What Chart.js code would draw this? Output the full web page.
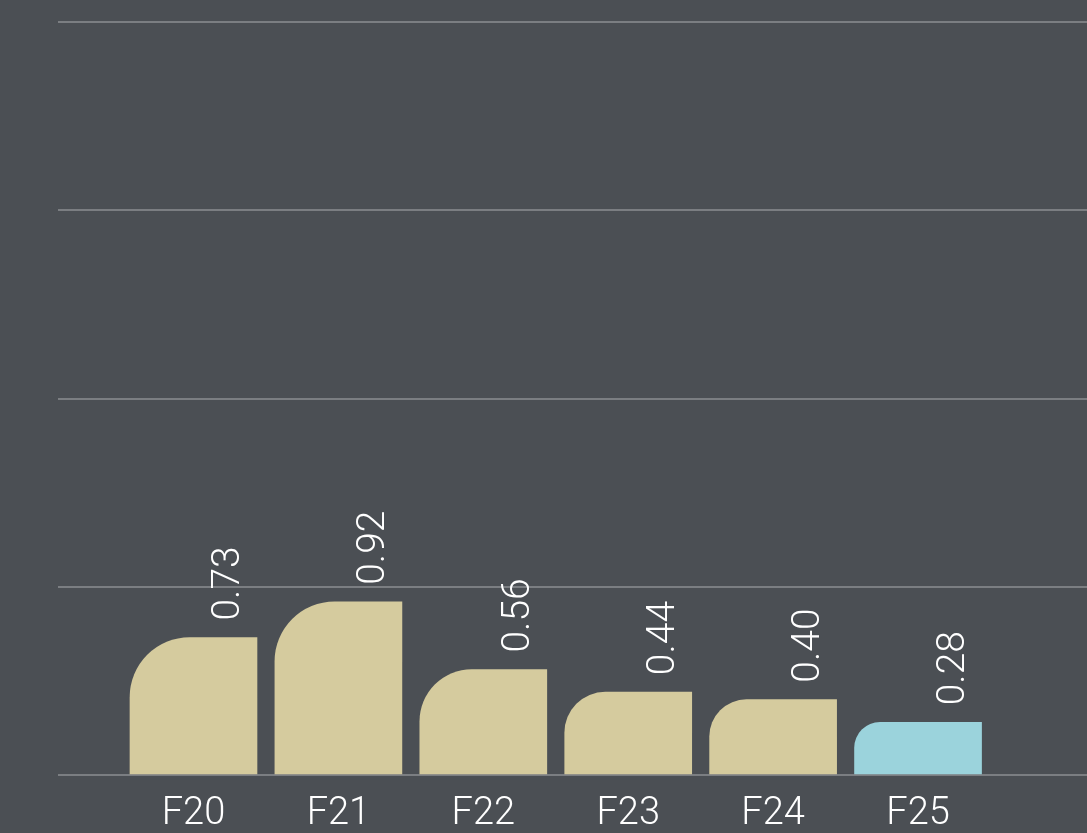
<!DOCTYPE html>
<html>
<head>
<meta charset="utf-8">
<script src="https://cdn.jsdelivr.net/npm/chart.js@4"></script>
<style>
html,body{margin:0;padding:0;background:#4b4f54;}
#wrap{width:1087px;height:833px;}
</style>
</head>
<body>
<div id="wrap"><canvas id="c" width="1087" height="833"></canvas></div>
<script>
const categories = ['F20','F21','F22','F23','F24','F25'];
const values = [0.73, 0.92, 0.56, 0.44, 0.40, 0.28];
const labelsText = ['0.73','0.92','0.56','0.44','0.40','0.28'];
const barColors = ['#d5cb9e','#d5cb9e','#d5cb9e','#d5cb9e','#d5cb9e','#9bd3dc'];
const yTicks = [0, 1, 2, 3, 4];

const FONT = "Roboto, 'Liberation Sans', sans-serif";

const labelPlugin = {
  id: 'barLabels',
  afterDatasetsDraw(chart) {
    const ctx = chart.ctx;
    const meta = chart.getDatasetMeta(0);
    ctx.save();
    ctx.fillStyle = '#ffffff';
    ctx.font = '300 39px ' + FONT;
    ctx.textAlign = 'left';
    ctx.textBaseline = 'alphabetic';
    meta.data.forEach((bar, i) => {
      ctx.save();
      ctx.translate(bar.x + 46, bar.y - 17);
      ctx.rotate(-Math.PI / 2);
      ctx.fillText(labelsText[i], 0, 0);
      ctx.restore();
    });
    ctx.restore();
  }
};

new Chart(document.getElementById('c'), {
  type: 'bar',
  data: {
    datasets: [{
      data: values.map((v, i) => ({x: i, y: v})),
      backgroundColor: barColors,
      borderWidth: 0,
      borderRadius: {topLeft: 60, topRight: 0, bottomLeft: 0, bottomRight: 0},
      borderSkipped: false,
      barThickness: 127
    }]
  },
  options: {
    responsive: false,
    animation: false,
    layout: {padding: {left: 58, top: 22, right: 0, bottom: 0}},
    plugins: {legend: {display: false}, tooltip: {enabled: false}},
    scales: {
      x: {
        type: 'linear',
        offset: false,
        min: -0.935,
        max: 6.166,
        afterBuildTicks(axis) { axis.ticks = categories.map((c, i) => ({value: i})); },
        afterFit(axis) { axis.height = 58; },
        grid: {display: false, drawTicks: false, offset: false},
        border: {display: false},
        ticks: {
          color: '#ffffff',
          font: {family: FONT, size: 38, weight: 300},
          padding: 17,
          maxRotation: 0,
          autoSkip: false,
          callback: (v) => categories[v] !== undefined ? categories[v] : ''
        }
      },
      y: {
        min: 0,
        max: 4,
        afterBuildTicks(axis) { axis.ticks = yTicks.map(v => ({value: v})); },
        grid: {color: '#7b7e82', lineWidth: 2, drawTicks: false},
        border: {display: false},
        ticks: {display: false}
      }
    }
  },
  plugins: [labelPlugin]
});
</script>
</body>
</html>
